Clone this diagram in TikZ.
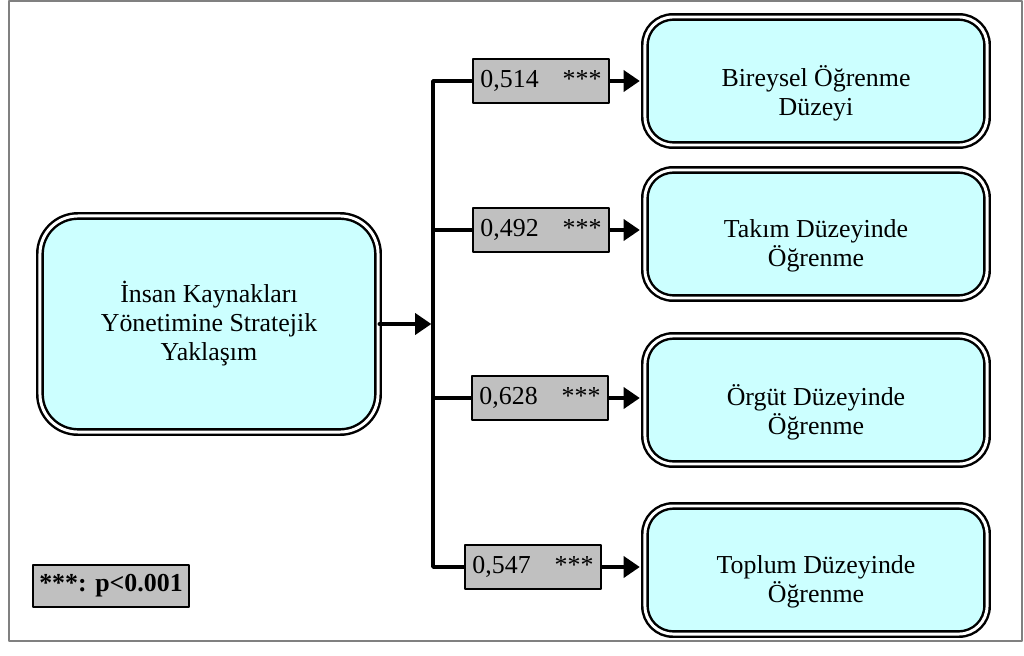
\documentclass[tikz,border=0pt]{standalone}
\usepackage{fontspec}
\setmainfont{Liberation Serif}
\usetikzlibrary{arrows.meta}
\definecolor{boxcyan}{HTML}{CCFFFF}
\definecolor{coefgray}{HTML}{C0C0C0}
\definecolor{framegray}{HTML}{808080}
\tikzset{
	factor/.style={draw=black,line width=1.75pt,double=white,double distance=2.1pt,fill=boxcyan,
		align=center,inner sep=0pt,font=\fontsize{18.4}{20.6}\selectfont},
	level/.style={factor,rounded corners=0.7cm,minimum width=8.55cm,minimum height=3.2cm},
	leveltext/.style={align=center,inner sep=0pt,yshift=-8.5pt,font=\fontsize{18.4}{20.6}\selectfont},
	coef/.style={draw=black,line width=1.4pt,fill=coefgray,inner sep=0pt,
		minimum width=3.4cm,minimum height=1.08cm,font=\fontsize{18.4}{20.6}\selectfont},
	wire/.style={line width=2.5pt}
}
\begin{document}
\begin{tikzpicture}[x=0.025cm,y=-0.025cm,line cap=round,line join=round,>={Triangle[length=11.5pt,width=15pt]}]
	\useasboundingbox (0,0) rectangle (1024,656);
	\draw[framegray,line width=1.4pt] (9,1) rectangle (1022,641);
	% predictor and the four learning levels
	\node[factor,rounded corners=0.95cm,minimum width=8.45cm,minimum height=5.4cm] (hrm) at (209,324) {İnsan Kaynakları\\Yönetimine Stratejik\\Yaklaşım};
	\node[level,label={[leveltext]center:Bireysel Öğrenme\\Düzeyi}] (l1) at (816,81) {};
	\node[level,label={[leveltext]center:Takım Düzeyinde\\Öğrenme}] (l2) at (816,234) {};
	\node[level,label={[leveltext]center:Örgüt Düzeyinde\\Öğrenme}] (l3) at (816,400) {};
	\node[level,label={[leveltext]center:Toplum Düzeyinde\\Öğrenme}] (l4) at (816,570) {};
	% path coefficients
	\node[coef] (c1) at (541,81) {0,514\hspace{6mm}***};
	\node[coef] (c2) at (541,230) {0,492\hspace{6mm}***};
	\node[coef] (c3) at (540,398) {0,628\hspace{6mm}***};
	\node[coef] (c4) at (533,567) {0,547\hspace{6mm}***};
	\node[coef,minimum width=3.9cm,minimum height=1.05cm,font=\fontsize{18.4}{20.6}\selectfont\bfseries] (sig) at (111,586) {***: p<0.001};
	% bus
	\coordinate (bustop) at (433,81);
	\coordinate (busmid) at (433,324);
	\coordinate (busbot) at (433,567);
	\draw[wire] (c1.west) -- (bustop) -- (busbot) -- (c4.west);
	\draw[wire] (c2.west) -- (c2.west -| bustop);
	\draw[wire] (c3.west) -- (c3.west -| bustop);
	\draw[wire,->,shorten >=1.2pt] (hrm) -- (busmid);
	\foreach \i in {1,...,4}
		\draw[wire,->,shorten >=2.8pt] (c\i) -- (c\i -| l\i.west);
\end{tikzpicture}
\end{document}
